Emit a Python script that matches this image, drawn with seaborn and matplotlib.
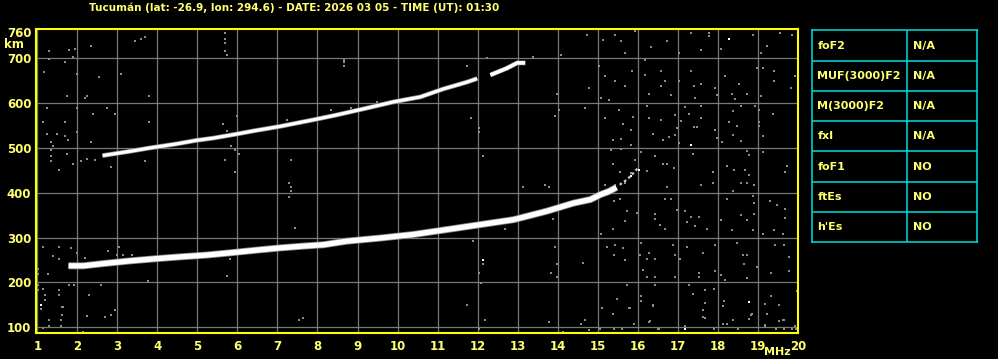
import numpy as np
import pandas as pd
import seaborn as sns
import matplotlib
matplotlib.use("Agg")
import matplotlib.pyplot as plt

# ---------------- data ----------------
title_text = "Tucumán (lat: -26.9, lon: 294.6) - DATE: 2026 03 05 - TIME (UT): 01:30"
x_ticks = list(range(1, 21))
y_ticks = [100, 200, 300, 400, 500, 600, 700, 760]

# O-trace (lower F trace)
low_f = [1.78, 2.15, 2.65, 3.32, 3.98, 4.57, 5.23, 5.82, 6.48, 7.07, 7.65, 8.15, 8.73,
         9.57, 10.4, 11.24, 12.07, 12.9, 13.73, 14.4, 14.82, 15.07, 15.28, 15.47]
low_h = [237, 237, 242, 248, 253, 257, 261, 266, 272, 277, 281, 284, 292,
         299, 307, 318, 329, 340, 359, 377, 385, 396, 403, 412]
tail_f = [15.55, 15.65, 15.75, 15.85, 15.95, 16.03]
tail_h = [418, 424, 431, 440, 450, 457]

# second-hop trace (upper)
up_f = [2.63, 3.34, 3.80, 4.47, 4.97, 5.39, 5.97, 6.39, 7.05, 7.90, 8.49, 9.23, 9.90,
        10.57, 11.15, 11.73, 11.99]
up_h = [483, 493, 500, 509, 517, 522, 531, 538, 548, 563, 574, 589, 603,
        614, 632, 647, 655]
up2_f = [12.32, 12.73, 12.99, 13.19]
up2_h = [663, 678, 690, 690]

# scattered noise echoes (gray)
noise_f = [14.73, 15.13, 15.44, 15.59, 15.69, 15.94, 16.34, 16.73, 17.04, 17.34, 17.77, 17.77, 18.89, 19.56, 19.86, 19.24, 19.07, 18.07, 17.58,
           15.03, 15.19, 15.44, 15.69, 15.86, 16.19, 16.19, 16.28, 16.59, 16.69, 16.57, 16.84, 17.04, 17.34, 17.40, 17.58, 17.44, 17.98, 18.19, 18.54, 18.74, 18.98, 19.14, 19.40, 19.40, 19.83, 19.94, 19.09, 18.42, 18.36, 17.94, 14.78, 15.08, 15.29,
           14.69, 15.19, 15.54, 15.63, 15.89, 15.83, 15.58, 15.38, 16.23, 16.29, 16.59, 16.38, 16.63, 16.78, 16.94, 17.07, 16.98, 16.94, 17.04, 17.19, 17.29, 17.40, 17.48, 17.58, 17.58, 17.94, 17.98, 18.11, 18.27, 18.39, 18.48, 18.58, 18.37, 18.59, 18.94, 19.02, 19.04, 19.04, 19.39, 19.14, 18.73,
           15.33, 15.59, 15.83, 16.09, 16.44, 15.94, 15.83, 15.55, 15.38, 16.23, 16.63, 16.73, 16.90, 17.38, 17.88, 18.24, 18.40, 18.68, 18.79, 19.14, 19.74, 19.69, 18.78,
           15.19, 15.43, 15.69, 16.73, 17.58, 17.88, 18.59, 18.73, 18.90, 15.40, 15.57, 15.73, 15.99, 16.44, 16.44, 16.69, 16.84, 16.55, 16.69, 16.98, 17.19, 17.24, 17.34, 17.44, 17.53, 17.74, 18.09, 18.24, 18.39, 18.36, 18.59, 18.73, 18.89, 18.90, 18.90, 18.89, 19.30, 19.49, 19.69, 19.67, 19.40, 19.63, 19.14, 15.38, 15.08, 15.69,
           15.23, 15.43, 15.64, 15.40, 15.69, 16.09, 16.05, 16.28, 16.24, 16.43, 16.13, 16.24, 16.44, 16.88, 16.94, 17.05, 16.94, 17.24, 17.64, 17.53, 17.54, 17.94, 17.94, 18.09, 18.19, 18.48, 18.63, 18.65, 18.73, 18.73, 18.98, 19.44, 19.65, 19.77, 19.77, 19.33, 14.63,
           15.73, 16.09, 16.09, 16.37, 16.42, 15.80, 15.48, 16.30, 17.28, 17.38, 17.69, 17.69, 17.67, 17.90, 18.15, 18.14, 18.39, 18.24, 18.82, 19.19, 19.33, 19.54, 19.65, 19.53, 19.98, 14.68, 15.11, 15.38, 15.92,
           19.19, 19.45, 19.65, 19.85, 19.95, 18.50, 17.90, 16.50, 15.60, 15.40, 15.05,
           13.79, 14.69, 14.59, 14.79, 14.14, 15.78, 16.38, 16.29, 16.54, 17.19, 17.62, 17.64, 18.14, 18.85, 18.79, 19.23, 19.19, 19.64, 19.94,
           1.285, 1.785, 1.95, 2.34, 3.44, 3.59, 3.69, 5.69, 5.69, 5.69, 5.69, 5.73, 1.285, 1.69, 1.885, 1.175, 1.985, 2.535, 3.09, 1.735, 2.2, 2.24, 3.785, 1.24, 1.985, 2.735, 2.94, 2.385, 1.135, 1.69, 3.785, 1.24, 1.485, 1.69, 1.76, 1.985, 2.34, 1.34, 1.385, 1.34, 1.34, 1.34, 1.535, 1.735, 1.885, 2.09, 2.24, 2.45, 2.84, 3.69, 5.64, 5.73, 5.84, 5.94, 6.03, 5.69, 5.94, 5.99,
           8.67, 8.67, 8.67, 7.23, 8.33, 8.83, 9.48, 11.73, 12.23, 11.83, 12.04, 12.04, 12.13, 13.38, 14.09, 13.98, 14.04, 13.94, 7.34,
           7.29, 7.34, 7.34, 7.29, 7.44, 11.88, 12.14, 12.04, 12.09, 11.73, 12.19, 12.04, 7.54, 7.63, 13.13, 13.69, 13.79, 13.88, 13.94, 13.98, 13.84, 13.98, 14.13, 12.68,
           1.135, 1.54, 1.835, 1.385, 1.54, 2.76, 3.03, 2.985, 3.375, 3.15, 2.19, 1.985, 5.82, 5.73, 3.775, 1.275, 1.025, 1.025, 1.025, 1.025, 1.135, 1.19, 1.19, 1.54, 1.54, 1.80, 1.925, 2.59, 2.29, 1.635, 2.94,
           1.085, 1.29, 1.61, 1.61, 1.585, 1.29, 1.585, 2.235, 2.69, 2.84, 2.94, 2.135, 1.135]
noise_h = [753, 741, 753, 739, 712, 761, 725, 738, 712, 756, 756, 750, 753, 756, 753, 727, 712, 721, 719,
           683, 661, 649, 639, 671, 697, 663, 621, 671, 649, 638, 619, 650, 671, 638, 643, 611, 619, 661, 643, 621, 678, 678, 671, 649, 634, 661, 617, 610, 621, 634, 634, 611, 608,
           589, 567, 585, 553, 569, 541, 520, 518, 594, 567, 563, 531, 518, 524, 573, 561, 545, 530, 511, 591, 576, 546, 546, 567, 594, 541, 522, 513, 559, 582, 550, 593, 528, 515, 594, 585, 558, 550, 576, 526, 493,
           496, 498, 506, 491, 483, 474, 444, 446, 464, 449, 464, 464, 455, 486, 446, 460, 451, 451, 485, 491, 459, 446, 440,
           418, 417, 422, 413, 417, 422, 422, 422, 418, 382, 387, 359, 355, 352, 341, 386, 386, 329, 320, 362, 360, 334, 345, 325, 346, 320, 340, 387, 405, 318, 350, 340, 392, 377, 353, 318, 382, 373, 364, 343, 316, 309, 309, 320, 309, 338,
           279, 284, 276, 262, 249, 287, 262, 266, 253, 253, 228, 212, 212, 284, 262, 253, 211, 279, 266, 221, 211, 284, 226, 217, 206, 288, 261, 241, 262, 210, 234, 284, 284, 257, 226, 221, 243,
           194, 169, 158, 148, 195, 143, 162, 113, 195, 173, 184, 153, 121, 186, 158, 147, 117, 108, 128, 152, 169, 149, 115, 113, 180, 117, 143, 130, 107,
           102, 95, 95, 95, 97, 95, 95, 95, 95, 95, 95,
           112, 116, 107, 94, 90, 142, 150, 112, 96, 102, 139, 122, 107, 129, 118, 129, 105, 115, 103,
           717, 719, 721, 728, 739, 743, 747, 756, 744, 734, 717, 708, 698, 692, 703, 669, 665, 658, 666, 617, 611, 617, 617, 589, 589, 589, 576, 576, 558, 558, 558, 532, 532, 527, 518, 535, 513, 513, 504, 495, 483, 470, 452, 487, 465, 472, 476, 474, 457, 470, 554, 538, 505, 496, 487, 474, 446, 571,
           697, 691, 683, 563, 585, 589, 602, 683, 702, 568, 544, 536, 483, 703, 708, 621, 585, 572, 474,
           422, 413, 403, 391, 321, 293, 241, 221, 199, 150, 117, 95, 117, 121, 413, 418, 413, 341, 279, 240, 221, 212, 89, 319,
           280, 280, 276, 260, 252, 270, 280, 261, 261, 261, 255, 265, 253, 215, 202, 218, 230, 218, 194, 182, 186, 171, 160, 182, 171, 194, 194, 194, 171, 144, 139,
           141, 116, 146, 127, 116, 103, 103, 125, 122, 127, 138, 90, 99]
# bright isolated echoes (white)
bright_f = [18.29, 17.34, 16.03, 15.83, 12.14, 17.19, 1.085, 18.79]
bright_h = [743, 506, 452, 438, 251, 95, 150, 156]

# parameter table
param_names = ["foF2", "MUF(3000)F2", "M(3000)F2", "fxI", "foF1", "ftEs", "h'Es"]
param_values = ["N/A", "N/A", "N/A", "N/A", "NO", "NO", "NO"]

# ---------------- style ----------------
sns.set_style("dark")
plt.rcParams["font.family"] = ["DejaVu Sans"]
YEL = "#ffff00"
TXT = "#ffff70"
GRID = "#787878"
NOISE = "#8c8c8c"
CYAN = "#00dede"

W, H = 998, 359
fig = plt.figure(figsize=(W / 100, H / 100), dpi=100, facecolor="black")
ax = fig.add_axes([35.5 / W, (H - 333) / H, (797.8 - 35.5) / W, (333 - 29.3) / H])
ax.set_facecolor("black")

df_noise = pd.DataFrame({"f": noise_f, "h": noise_h})
df_bright = pd.DataFrame({"f": bright_f, "h": bright_h})
df_low = pd.DataFrame({"f": low_f, "h": low_h})
df_tail = pd.DataFrame({"f": tail_f, "h": tail_h})
df_up = pd.DataFrame({"f": up_f, "h": up_h})
df_up2 = pd.DataFrame({"f": up2_f, "h": up2_h})

sns.scatterplot(data=df_noise, x="f", y="h", ax=ax, color=NOISE, marker="s",
                s=4, linewidth=0, zorder=3)
sns.scatterplot(data=df_bright, x="f", y="h", ax=ax, color="white", marker="s",
                s=4, linewidth=0, zorder=3)

# gray fringes
for d, lw in [(df_low, 5.0), (df_up, 3.4), (df_up2, 3.4)]:
    sns.lineplot(data=d, x="f", y="h", ax=ax, color="#8a8a8a", linewidth=lw,
                 sort=False, zorder=4, solid_capstyle="butt")
sns.lineplot(data=df_low, x="f", y="h", ax=ax, color="white", linewidth=3.8,
             sort=False, zorder=5, solid_capstyle="butt")
sns.lineplot(data=df_up, x="f", y="h", ax=ax, color="white", linewidth=2.3,
             sort=False, zorder=5, solid_capstyle="butt")
sns.lineplot(data=df_up2, x="f", y="h", ax=ax, color="white", linewidth=2.6,
             sort=False, zorder=5, solid_capstyle="butt")
sns.lineplot(data=df_tail, x="f", y="h", ax=ax, color="#c8c8c8", linewidth=1.6,
             sort=False, zorder=5, linestyle=(0, (1.2, 1.2)))

ax.set_xlim(0.955, 20.0)
ax.set_ylim(87, 765)
ax.set_xticks(x_ticks)
ax.set_xticklabels([str(t) for t in x_ticks])
ax.set_yticks(y_ticks)
ax.set_yticklabels([str(t) for t in y_ticks])
ax.set_xlabel("")
ax.set_ylabel("")
ax.grid(True, color=GRID, linewidth=0.9, zorder=1)
ax.set_axisbelow(True)
ax.get_ygridlines()[-1].set_visible(False)
ax.tick_params(axis="both", length=0, labelcolor=TXT, labelsize=8.5)
ax.tick_params(axis="x", pad=5)
ax.tick_params(axis="y", pad=3)
for lab in ax.get_xticklabels() + ax.get_yticklabels():
    lab.set_fontweight("bold")
for sp in ax.spines.values():
    sp.set_visible(True)
    sp.set_color(YEL)
    sp.set_linewidth(1.5)
    sp.set_zorder(10)

# title and unit labels
fig.text(294.5 / W, 1 - 8 / H, title_text, ha="center", va="center",
         color=TXT, fontsize=7.5, fontweight="bold")
fig.text(13.5 / W, 1 - 44.5 / H, "km", ha="center", va="center",
         color=TXT, fontsize=8.5, fontweight="bold")
fig.text(777.5 / W, 1 - 352 / H, "MHz", ha="center", va="center",
         color=TXT, fontsize=8, fontweight="bold")

# parameter table
tx0, tx1, ty0, ty1 = 812.3, 977.3, 30.3, 242.3
tab = fig.add_axes([tx0 / W, (H - ty1) / H, (tx1 - tx0) / W, (ty1 - ty0) / H])
tab.set_facecolor("black")
tab.set_xlim(tx0, tx1)
tab.set_ylim(ty1, ty0)
tab.set_xticks([])
tab.set_yticks([])
for sp in tab.spines.values():
    sp.set_color(CYAN)
    sp.set_linewidth(1.1)
row_edges = [30.3, 61.3, 91.3, 121.3, 151.3, 182.3, 212.3, 242.3]
for yv in row_edges[1:-1]:
    tab.axhline(yv, color=CYAN, linewidth=1.1)
tab.axvline(907.3, color=CYAN, linewidth=1.1)
for i, (nm, val) in enumerate(zip(param_names, param_values)):
    yc = (row_edges[i] + row_edges[i + 1]) / 2
    tab.text(817.3, yc, nm, ha="left", va="center", color=TXT, fontsize=8,
             fontweight="bold")
    tab.text(912.7, yc, val, ha="left", va="center", color=TXT, fontsize=8,
             fontweight="bold")

fig.savefig("out.png", dpi=100, facecolor="black")
